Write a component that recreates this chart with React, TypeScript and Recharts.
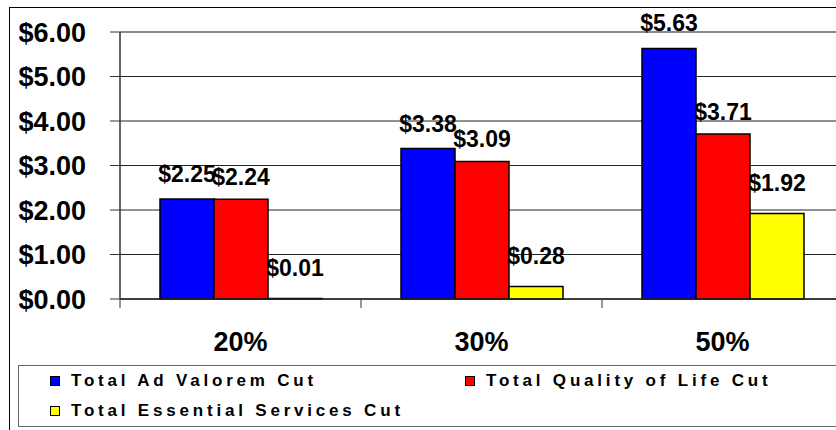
import React from 'react'
import { BarChart, Bar, XAxis, YAxis, CartesianGrid, LabelList, ReferenceLine } from 'recharts'

const CATEGORIES = ['20%', '30%', '50%']
const AD_VALOREM = [2.25, 3.38, 5.63]
const QUALITY_OF_LIFE = [2.24, 3.09, 3.71]
const ESSENTIAL_SERVICES = [0.01, 0.28, 1.92]
const SERIES_NAMES = ['Total Ad Valorem Cut', 'Total Quality of Life Cut', 'Total Essential Services Cut']
const Y_TICKS = [0, 1, 2, 3, 4, 5, 6]

const CORES = ['#0000ff', '#ff0000', '#ffff00']
const LABEL_OFFSETS = [17, 14, 23]
const FONT = '"Liberation Sans", Arial, sans-serif'

const dados = CATEGORIES.map((c, i) => ({
  categoria: c,
  s0: AD_VALOREM[i],
  s1: QUALITY_OF_LIFE[i],
  s2: ESSENTIAL_SERVICES[i],
}))

const dinheiro = (v: number) => `$${Number(v).toFixed(2)}`

const XTick = (props: any) => {
  const { x, y, payload } = props
  const half = payload && payload.offset ? payload.offset : 120.5
  return (
    <g>
      <line x1={x - half} x2={x - half} y1={y} y2={y + 9} stroke="#333" strokeWidth={1} />
      <text x={x} y={y + 52} textAnchor="middle" fontSize={27} fontWeight="bold" fontFamily={FONT} fill="#000">
        {payload.value}
      </text>
    </g>
  )
}

export default function App() {
  return (
    <div style={{ position: 'absolute', left: 0, top: 0, width: 836, height: 430, overflow: 'hidden', background: '#fff', fontFamily: FONT }}>
      <div style={{ position: 'absolute', left: 9, top: 7, width: 900, height: 500, border: '1.5px solid #000' }} />
      <div style={{ position: 'absolute', left: 0, top: 0 }}>
        <BarChart width={860} height={430} data={dados} margin={{ top: 32, right: 17, bottom: 71, left: 0 }} barGap={0}>
          <CartesianGrid vertical={false} stroke="#222" strokeWidth={1} />
          <XAxis
            dataKey="categoria"
            height={60}
            axisLine={{ stroke: '#222', strokeWidth: 1.5 }}
            tickLine={false}
            tickSize={0}
            tickMargin={0}
            interval={0}
            tick={<XTick />}
          />
          <YAxis
            domain={[0, 6]}
            ticks={Y_TICKS}
            interval={0}
            width={120}
            tickSize={10}
            tickMargin={24}
            tickFormatter={dinheiro}
            axisLine={{ stroke: '#333', strokeWidth: 1.5 }}
            tickLine={{ stroke: '#333' }}
            tick={{ fontSize: 27, fontWeight: 'bold', fill: '#000', fontFamily: FONT }}
          />
          <ReferenceLine y={6} stroke="#888" strokeWidth={2} />
          {SERIES_NAMES.map((nome, i) => (
            <Bar
              key={nome}
              dataKey={`s${i}`}
              name={nome}
              fill={CORES[i]}
              stroke="#000"
              strokeWidth={1.5}
              barSize={54}
              isAnimationActive={false}
            >
              <LabelList
                dataKey={`s${i}`}
                position="top"
                offset={LABEL_OFFSETS[i]}
                formatter={dinheiro}
                fill="#000"
                fontSize={23}
                fontWeight="bold"
                fontFamily={FONT}
              />
            </Bar>
          ))}
        </BarChart>
      </div>
      <div
        style={{
          position: 'absolute',
          left: 18,
          top: 365,
          width: 900,
          height: 62,
          border: '1.5px solid #666',
          boxSizing: 'border-box',
          display: 'flex',
          flexWrap: 'wrap',
          paddingLeft: 31,
        }}
      >
        {SERIES_NAMES.map((nome, i) => (
          <div key={nome} style={{ width: 415, height: 29, display: 'flex', alignItems: 'center' }}>
            <span style={{ width: 8, height: 8, background: CORES[i], border: '1.5px solid #000', marginRight: 11, flexShrink: 0 }} />
            <span style={{ fontSize: 17, fontWeight: 'bold', letterSpacing: 3.8, color: '#000', whiteSpace: 'nowrap' }}>{nome}</span>
          </div>
        ))}
      </div>
    </div>
  )
}
